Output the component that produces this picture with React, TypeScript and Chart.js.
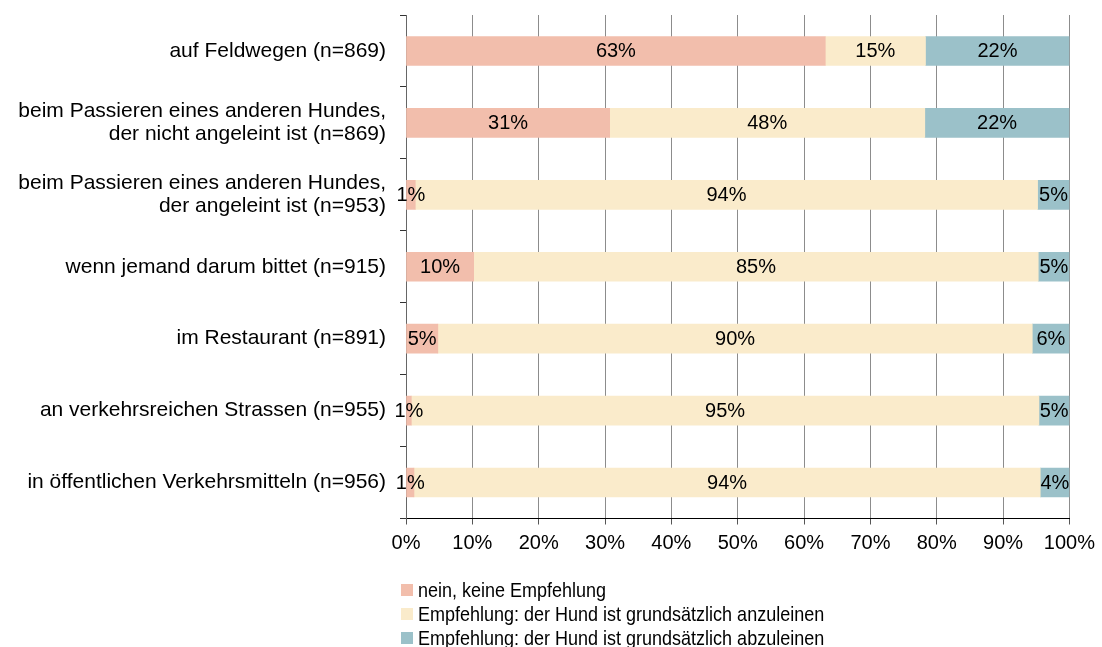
import React, { useEffect, useRef } from "react";
import { Chart, registerables } from "chart.js";

Chart.register(...registerables);

const categories: string[][] = [
  ["auf Feldwegen (n=869)"],
  ["beim Passieren eines anderen Hundes,", "der nicht angeleint ist (n=869)"],
  ["beim Passieren eines anderen Hundes,", "der angeleint ist (n=953)"],
  ["wenn jemand darum bittet (n=915)"],
  ["im Restaurant (n=891)"],
  ["an verkehrsreichen Strassen (n=955)"],
  ["in öffentlichen Verkehrsmitteln (n=956)"],
];

const seriesNames = [
  "nein, keine Empfehlung",
  "Empfehlung: der Hund ist grundsätzlich anzuleinen",
  "Empfehlung: der Hund ist grundsätzlich abzuleinen",
];

const neinValues = [63.2, 30.7, 1.4, 10.2, 4.8, 0.8, 1.2];
const anzuleinenValues = [15.1, 47.5, 93.8, 85.1, 89.6, 94.6, 94.4];
const abzuleinenValues = [21.7, 21.8, 4.8, 4.7, 5.6, 4.6, 4.4];

const seriesColors = ["#F2BEAC", "#FAEBCB", "#9BC1C9"];

const xTickValues = [0, 10, 20, 30, 40, 50, 60, 70, 80, 90, 100];

const FONT = '"Liberation Sans", Arial, sans-serif';

const valueLabels = {
  id: "valueLabels",
  afterDatasetsDraw(chart: any) {
    const ctx = chart.ctx;
    ctx.save();
    ctx.font = `20px ${FONT}`;
    ctx.fillStyle = "#000";
    ctx.textAlign = "center";
    ctx.textBaseline = "middle";
    chart.data.datasets.forEach((ds: any, i: number) => {
      const meta = chart.getDatasetMeta(i);
      meta.data.forEach((bar: any, j: number) => {
        const v = ds.data[j];
        const p = bar.getProps(["x", "y", "base"], true);
        ctx.fillText(Math.round(v) + "%", (p.x + p.base) / 2, p.y + 1);
      });
    });
    ctx.restore();
  },
};

export default function App() {
  const ref = useRef<HTMLCanvasElement | null>(null);

  useEffect(() => {
    document.body.style.margin = "0";
    if (!ref.current) return;
    const values = [neinValues, anzuleinenValues, abzuleinenValues];
    const chart = new Chart(ref.current, {
      type: "bar",
      data: {
        labels: categories,
        datasets: seriesNames.map((name, i) => ({
          label: name,
          data: values[i],
          backgroundColor: seriesColors[i],
          borderWidth: 0,
          barThickness: 29,
        })),
      },
      options: {
        indexAxis: "y",
        animation: false,
        responsive: false,
        devicePixelRatio: 1,
        layout: { padding: { left: 0, right: 31.5, top: 15, bottom: 0 } },
        plugins: {
          legend: { display: false },
          tooltip: { enabled: false },
        },
        scales: {
          x: {
            stacked: true,
            min: 0,
            max: 100,
            afterBuildTicks: (scale: any) => {
              scale.ticks = xTickValues.map((v) => ({ value: v }));
            },
            afterFit: (scale: any) => {
              scale.height = 128.5;
            },
            ticks: {
              callback: (v: any) => v + "%",
              color: "#000",
              font: { family: FONT, size: 20 },
              padding: 7,
              maxRotation: 0,
            },
            grid: {
              color: "#8c8c8c",
              lineWidth: 1,
              tickLength: 6,
              tickColor: "#555",
            },
            border: { color: "#000", width: 1 },
          },
          y: {
            stacked: true,
            afterFit: (scale: any) => {
              scale.width = 406;
              scale.paddingTop = 0;
              scale.paddingBottom = 0;
            },
            ticks: {
              color: "#000",
              font: { family: FONT, size: 21, lineHeight: 1.1 },
              padding: 14,
            },
            grid: {
              display: true,
              drawOnChartArea: false,
              offset: true,
              tickLength: 6,
              tickColor: "#333",
            },
            border: { color: "#666", width: 1 },
          },
        },
      },
      plugins: [valueLabels],
    });
    return () => chart.destroy();
  }, []);

  return (
    <div style={{ position: "absolute", left: 0, top: 0, width: 1102, height: 647, overflow: "hidden", background: "#fff" }}>
      <canvas ref={ref} width={1102} height={647} style={{ display: "block" }} />
      <div
        style={{
          position: "absolute",
          left: 401,
          top: 578,
          font: `21px ${FONT}`,
          lineHeight: "24px",
          color: "#000",
        }}
      >
        {seriesNames.map((n, i) => (
          <div key={n} style={{ display: "flex", alignItems: "center", whiteSpace: "nowrap", height: 24 }}>
            <span style={{ display: "inline-block", width: 12, height: 12, background: seriesColors[i], marginRight: 5, flex: "none" }} />
            <span style={{ display: "inline-block", transform: "scaleX(0.857)", transformOrigin: "left center" }}>{n}</span>
          </div>
        ))}
      </div>
    </div>
  );
}
